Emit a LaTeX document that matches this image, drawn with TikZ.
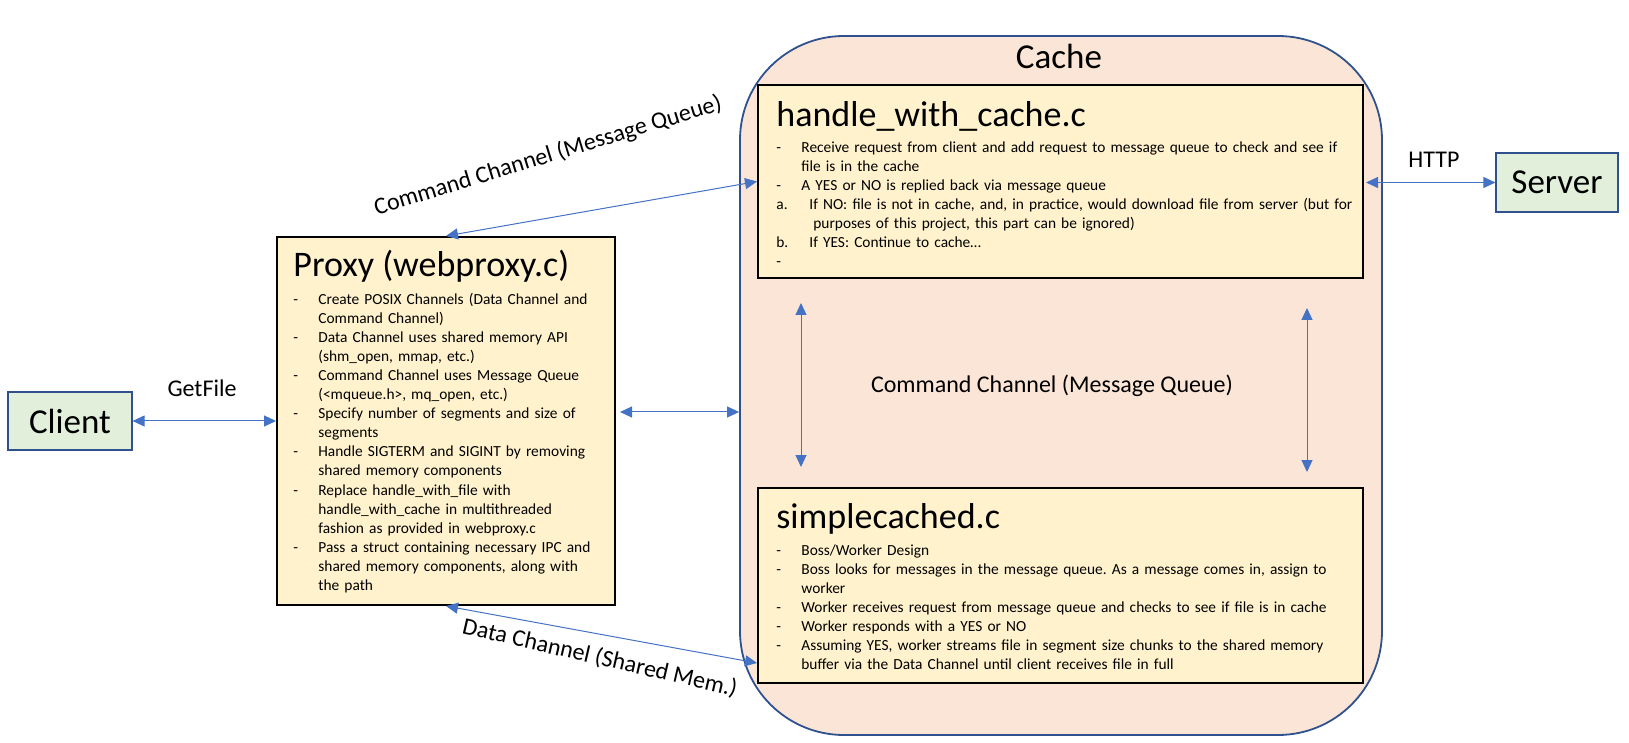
\documentclass[tikz,border=0pt]{standalone}
\usepackage{fontspec}
\setmainfont{Carlito}
\usetikzlibrary{arrows.meta,calc}
\definecolor{arrowblue}{RGB}{68, 114, 196}
\definecolor{boxblue}{RGB}{47, 82, 143}
\definecolor{termgreen}{RGB}{226, 239, 218}
\definecolor{modyellow}{RGB}{255, 242, 204}
\definecolor{cachepink}{RGB}{251, 229, 214}
\newcommand{\dashitem}[1]{\par\hangindent=12.5pt\hangafter=1\noindent\makebox[12.5pt][l]{-}#1}
\newcommand{\letteritem}[2]{\par\hangindent=18.5pt\hangafter=1\noindent\makebox[16.5pt][l]{#1}#2}
\tikzset{
  termbox/.style={draw=boxblue, fill=termgreen, line width=0.6pt, inner sep=0pt,
    font=\fontsize{17.5}{21}\selectfont},
  modbox/.style={draw=black, fill=modyellow, line width=1pt, inner sep=0pt},
  cachebox/.style={draw=boxblue, fill=cachepink, line width=0.9pt, rounded corners=52pt, inner sep=0pt},
  modtitle/.style={anchor=base west, inner sep=0pt, font=\fontsize{18}{21}\selectfont},
  modbody/.style={anchor=base west, inner sep=0pt, align=left,
    font=\fontsize{7.7}{9.55}\selectfont\frenchspacing},
  chanlabel/.style={inner sep=0pt, font=\fontsize{12}{14}\selectfont},
  link/.style={arrowblue, line width=0.5pt, >={Triangle[length=6pt,width=5.5pt]}, <->}
}
\begin{document}
\begin{tikzpicture}[x=0.5pt,y=-0.5pt]
  \useasboundingbox (0,0) rectangle (1629,743);
  % boxes
  \node[cachebox, minimum width=321pt, minimum height=349.5pt] (cache) at (1061,385.5) {};
  \node[modbox, minimum width=302.5pt, minimum height=96.5pt] (hwc) at (1060.5,181.5) {};
  \node[modbox, minimum width=302.5pt, minimum height=97.5pt] (sc) at (1060.5,585.5) {};
  \node[modbox, minimum width=169pt, minimum height=184pt] (proxy) at (446,421) {};
  \node[termbox, minimum width=62pt, minimum height=29pt] (client) at (70,421) {Client\hspace{5pt}};
  \node[termbox, minimum width=61pt, minimum height=29.5pt] (server) at (1557,182.5) {Server};
  \node[anchor=base, inner sep=0pt, font=\fontsize{17.5}{21}\selectfont] (cachetitle) at (1059,69) {Cache};
  % proxy text
  \node[modtitle] (proxytitle) at (293,277) {Proxy (webproxy.c)};
  \node[modbody, text width=160pt] (proxybody) at (293,285) {%
    \dashitem{Create POSIX Channels (Data Channel and\newline Command Channel)}
    \dashitem{Data Channel uses shared memory API\newline (shm\_open, mmap, etc.)}
    \dashitem{Command Channel uses Message Queue\newline (<mqueue.h>, mq\_open, etc.)}
    \dashitem{Specify number of segments and size of\newline segments}
    \dashitem{Handle SIGTERM and SIGINT by removing\newline shared memory components}
    \dashitem{Replace handle\_with\_file with\newline handle\_with\_cache in multithreaded\newline fashion as provided in webproxy.c}
    \dashitem{Pass a struct containing necessary IPC and\newline shared memory components, along with\newline the path}\par};
  % handle_with_cache text
  \node[modtitle] (hwctitle) at (776,127) {handle\_with\_cache.c};
  \node[modbody, text width=310pt] (hwcbody) at (776,133) {%
    \dashitem{Receive request from client and add request to message queue to check and see if\newline file is in the cache}
    \dashitem{A YES or NO is replied back via message queue}
    \letteritem{a.}{If NO: file is not in cache, and, in practice, would download file from server (but for\newline purposes of this project, this part can be ignored)}
    \letteritem{b.}{If YES: Continue to cache…}
    \dashitem{}\par};
  % simplecached text
  \node[modtitle] (sctitle) at (776,528) {simplecached.c};
  \node[modbody, text width=310pt] (scbody) at (776,536) {%
    \dashitem{Boss/Worker Design}
    \dashitem{Boss looks for messages in the message queue. As a message comes in, assign to\newline worker}
    \dashitem{Worker receives request from message queue and checks to see if file is in cache}
    \dashitem{Worker responds with a YES or NO}
    \dashitem{Assuming YES, worker streams file in segment size chunks to the shared memory\newline buffer via the Data Channel until client receives file in full}\par};
  % channel labels
  \node[chanlabel, anchor=base] (getfile) at (202,396) {GetFile};
  \node[chanlabel, anchor=base] (http) at (1434,168) {HTTP};
  \node[chanlabel, anchor=base] (cmdmid) at (1052,393) {Command Channel (Message Queue)};
  \node[chanlabel, rotate=17] (cmdtop) at (548,156) {Command Channel (Message Queue)};
  \node[chanlabel, rotate=-13] (datalbl) at (600,658) {Data Channel (Shared Mem.)};
  % connectors
  \draw[link] (client.east) -- (proxy.west);
  \draw[link] (proxy.north) -- (hwc.west);
  \draw[link] (proxy.south) -- ($(sc.south west)+(0,-21)$);
  \draw[link] ($(proxy.east)+(4,-9)$) coordinate (pc) -- (pc -| cache.west);
  \draw[link] ($(hwc.east |- server.west)+(2,0)$) -- (server.west);
  \draw[link] ($(hwc.south west)+(44,24)$) -- ($(sc.north west)+(44,-20)$);
  \draw[link] ($(hwc.south east)+(-57,29)$) -- ($(sc.north east)+(-57,-15)$);
\end{tikzpicture}
\end{document}
